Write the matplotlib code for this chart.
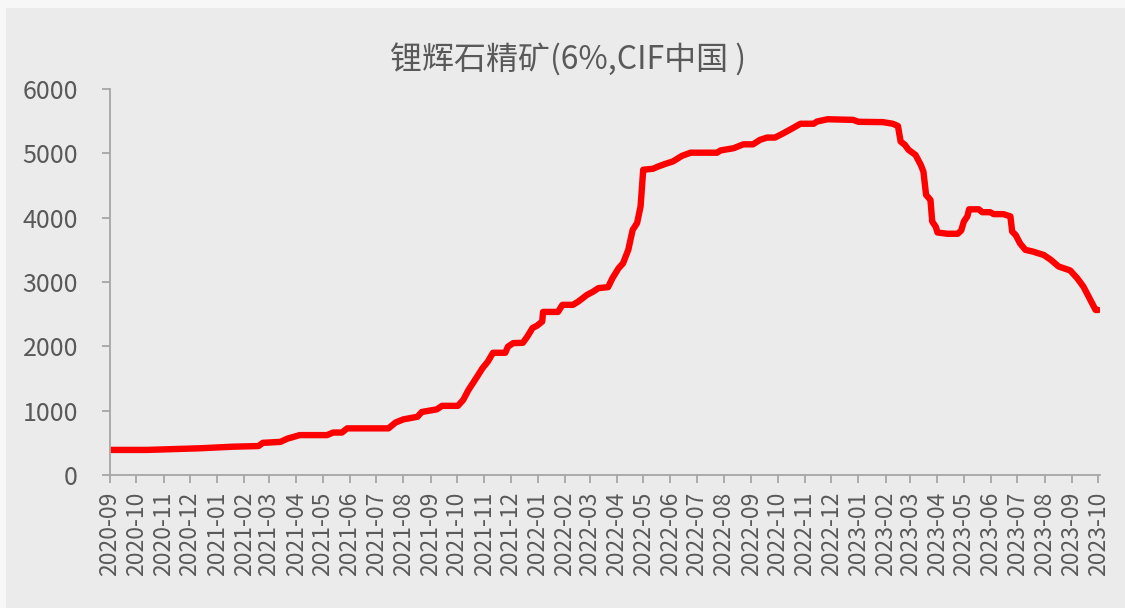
import matplotlib
matplotlib.use("Agg")
import matplotlib.pyplot as plt
import matplotlib.dates as mdates
from matplotlib.patches import Rectangle
import numpy as np

plt.rcParams['font.family'] = ['Noto Sans CJK SC', 'DejaVu Sans']

# 锂辉石精矿 price (USD/t)
dates = ["2020-09-01", "2020-10-13", "2020-12-12", "2021-01-19", "2021-02-17",
         "2021-02-22", "2021-03-14", "2021-03-22", "2021-04-05", "2021-05-06",
         "2021-05-13", "2021-05-23", "2021-05-29", "2021-07-15", "2021-07-23",
         "2021-08-01", "2021-08-17", "2021-08-22", "2021-09-08", "2021-09-14",
         "2021-10-02", "2021-10-08", "2021-10-14", "2021-10-24", "2021-10-30",
         "2021-11-05", "2021-11-11", "2021-11-25", "2021-11-28", "2021-12-04",
         "2021-12-15", "2021-12-20", "2021-12-26", "2021-12-31", "2022-01-06",
         "2022-01-07", "2022-01-24", "2022-01-29", "2022-02-10", "2022-02-16",
         "2022-02-26", "2022-03-05", "2022-03-11", "2022-03-22", "2022-03-27",
         "2022-04-03", "2022-04-08", "2022-04-14", "2022-04-19", "2022-04-24",
         "2022-04-28", "2022-05-01", "2022-05-12", "2022-05-18", "2022-05-26",
         "2022-06-04", "2022-06-14", "2022-06-24", "2022-07-24", "2022-07-28",
         "2022-08-12", "2022-08-23", "2022-09-03", "2022-09-11", "2022-09-19",
         "2022-09-28", "2022-10-08", "2022-10-18", "2022-10-27", "2022-11-11",
         "2022-11-15", "2022-11-27", "2022-12-26", "2023-01-01", "2023-01-29",
         "2023-02-09", "2023-02-15", "2023-02-18", "2023-02-23", "2023-02-27",
         "2023-03-07", "2023-03-13", "2023-03-16", "2023-03-19", "2023-03-24",
         "2023-03-26", "2023-03-30", "2023-04-01", "2023-04-12", "2023-04-24",
         "2023-04-28", "2023-05-01", "2023-05-05", "2023-05-07", "2023-05-18",
         "2023-05-22", "2023-05-31", "2023-06-04", "2023-06-15", "2023-06-23",
         "2023-06-25", "2023-06-29", "2023-07-04", "2023-07-10", "2023-07-18",
         "2023-07-31", "2023-08-08", "2023-08-17", "2023-08-30", "2023-09-07",
         "2023-09-14", "2023-09-20", "2023-09-28", "2023-10-01"]
prices = [390, 390, 415, 440, 450,
          500, 515, 565, 620, 620,
          660, 660, 725, 725, 815,
          865, 905, 980, 1020, 1075,
          1075, 1165, 1320, 1530, 1660,
          1760, 1900, 1900, 1995, 2050,
          2055, 2150, 2285, 2320, 2385,
          2535, 2535, 2645, 2645, 2695,
          2800, 2850, 2905, 2920, 3060,
          3215, 3290, 3500, 3810, 3915,
          4175, 4745, 4760, 4795, 4835,
          4875, 4960, 5010, 5010, 5045,
          5080, 5140, 5140, 5210, 5245,
          5245, 5315, 5390, 5460, 5460,
          5495, 5530, 5520, 5490, 5485,
          5460, 5425, 5185, 5130, 5055,
          4975, 4820, 4715, 4355, 4275,
          3940, 3860, 3770, 3750, 3750,
          3800, 3940, 4020, 4130, 4130,
          4085, 4085, 4055, 4055, 4020,
          3785, 3730, 3600, 3500, 3475,
          3420, 3345, 3240, 3180, 3060,
          2930, 2775, 2565, 2565]
title = "锂辉石精矿(6%,CIF中国 )"
yticks = [0, 1000, 2000, 3000, 4000, 5000, 6000]

x = np.array(dates, dtype="datetime64[D]")
y = np.array(prices)

bg = "#ebebeb"
txt = "#595959"
axcol = "#a6a6a6"

fig = plt.figure(figsize=(11.25, 6.08), dpi=100, facecolor="#f7f7f7")
fig.patches.append(Rectangle((6 / 1125, 0), 1, 1 - 8 / 608, transform=fig.transFigure,
                             facecolor=bg, edgecolor="none", zorder=-10))
ax = fig.add_axes([110 / 1125, 1 - 475 / 608, 990 / 1125, 386 / 608])
ax.set_facecolor(bg)

ax.plot(x, y, color="#ff0000", linewidth=4.6, solid_capstyle="round", solid_joinstyle="round")

ax.set_ylim(0, 6000)
ax.set_yticks(yticks)
ax.set_xlim(np.datetime64("2020-09-01"), np.datetime64("2023-10-03"))
ax.xaxis.set_major_locator(mdates.MonthLocator())
ax.xaxis.set_major_formatter(mdates.DateFormatter("%Y-%m"))

for s in ["top", "right"]:
    ax.spines[s].set_visible(False)
for s in ["left", "bottom"]:
    ax.spines[s].set_color(axcol)
    ax.spines[s].set_linewidth(1.3)

ax.tick_params(axis="y", colors=axcol, labelcolor=txt, labelsize=18, length=6, width=1.3, pad=17)
ax.tick_params(axis="x", colors=axcol, labelcolor=txt, labelsize=16.5, length=6, width=1.3,
               labelrotation=90, pad=6)

fig.text(0.505, 1 - 60 / 608, title, ha="center", va="center", fontsize=23, color=txt)

fig.savefig("out.png", dpi=100, facecolor=fig.get_facecolor())
